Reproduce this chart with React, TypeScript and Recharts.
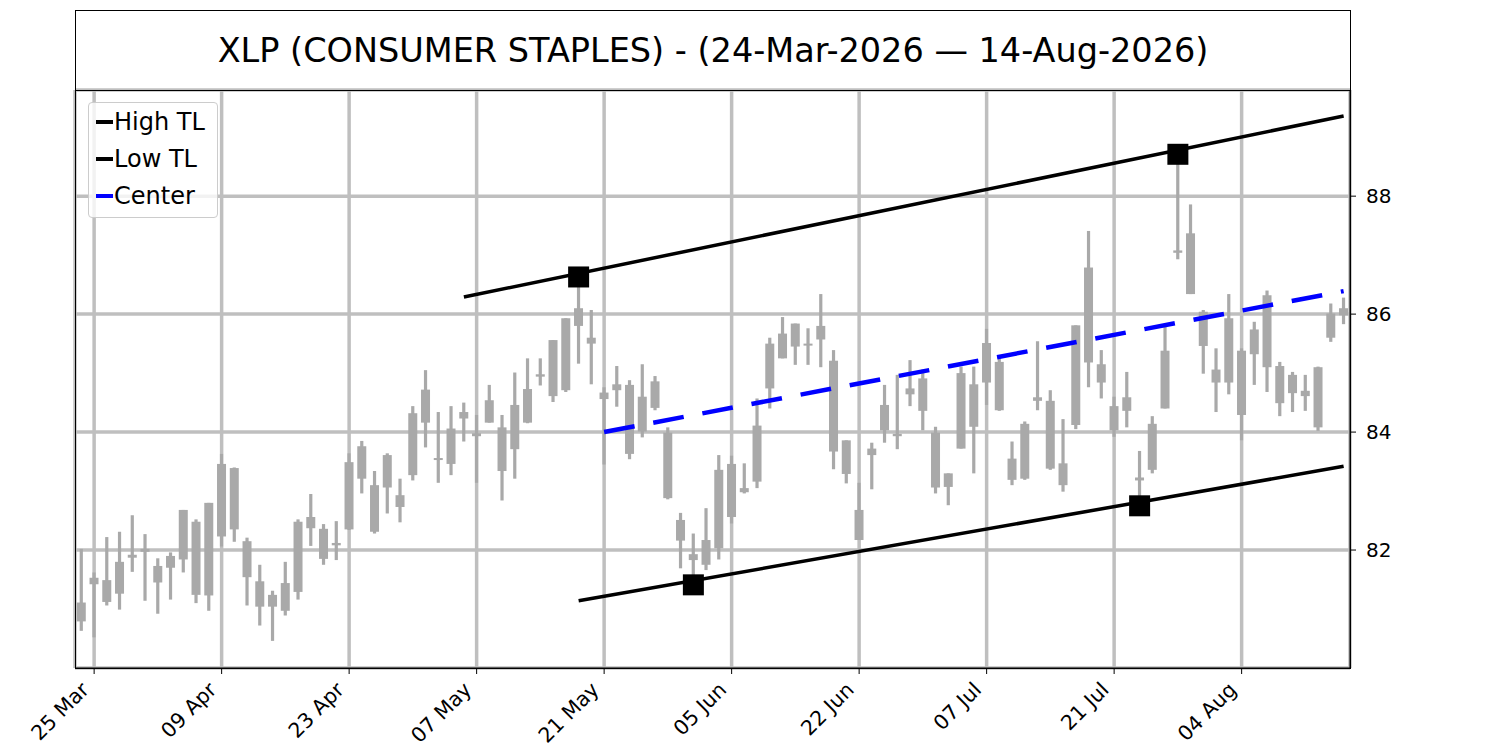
import React from 'react';
import {
  ComposedChart,
  Bar,
  XAxis,
  YAxis,
  CartesianGrid,
  ReferenceLine,
  ReferenceDot,
} from 'recharts';

// Trading days, 24-Mar-2026 .. 14-Aug-2026
const dates = [
  '24 Mar', '25 Mar', '26 Mar', '27 Mar', '30 Mar', '31 Mar',
  '01 Apr', '02 Apr', '06 Apr', '07 Apr', '08 Apr', '09 Apr', '10 Apr', '13 Apr', '14 Apr', '15 Apr',
  '16 Apr', '17 Apr', '20 Apr', '21 Apr', '22 Apr', '23 Apr', '24 Apr', '27 Apr', '28 Apr', '29 Apr', '30 Apr',
  '01 May', '04 May', '05 May', '06 May', '07 May', '08 May', '11 May', '12 May', '13 May', '14 May', '15 May',
  '18 May', '19 May', '20 May', '21 May', '22 May', '26 May', '27 May', '28 May', '29 May',
  '01 Jun', '02 Jun', '03 Jun', '04 Jun', '05 Jun', '08 Jun', '09 Jun', '10 Jun', '11 Jun', '12 Jun',
  '15 Jun', '16 Jun', '17 Jun', '18 Jun', '22 Jun', '23 Jun', '24 Jun', '25 Jun', '26 Jun', '29 Jun', '30 Jun',
  '01 Jul', '02 Jul', '06 Jul', '07 Jul', '08 Jul', '09 Jul', '10 Jul', '13 Jul', '14 Jul', '15 Jul', '16 Jul',
  '17 Jul', '20 Jul', '21 Jul', '22 Jul', '23 Jul', '24 Jul', '27 Jul', '28 Jul', '29 Jul', '30 Jul', '31 Jul',
  '03 Aug', '04 Aug', '05 Aug', '06 Aug', '07 Aug', '10 Aug', '11 Aug', '12 Aug', '13 Aug', '14 Aug',
];

const opens = [
  80.79, 81.42, 81.49, 81.26, 81.87, 81.97, 81.73, 81.70, 81.84, 82.48,
  81.23, 82.23, 82.35, 82.15, 81.47, 81.24, 80.97, 81.29, 82.37, 82.36,
  82.08, 82.35, 83.21, 83.10, 83.06, 82.93, 83.27, 84.16, 83.56, 83.46,
  84.23, 83.98, 84.16, 84.08, 83.71, 84.16, 84.94, 84.61, 84.71, 85.80,
  85.60, 84.67, 84.71, 84.80, 84.01, 84.41, 83.99, 82.51, 81.93, 81.75,
  82.03, 82.56, 83.05, 83.16, 84.74, 85.25, 85.45, 85.50, 85.57, 85.21,
  83.86, 82.68, 83.61, 84.03, 83.97, 84.64, 84.91, 83.99, 83.30, 83.72,
  84.09, 84.84, 85.19, 83.55, 83.21, 84.53, 84.53, 83.47, 84.12, 85.18,
  85.15, 84.44, 84.36, 83.23, 83.36, 84.40, 87.04, 87.37, 86.04, 85.06,
  84.84, 85.38, 85.32, 85.10, 85.12, 84.66, 84.70, 85.10, 85.60, 85.98,
];

const highs = [
  82.02, 81.62, 82.22, 82.31, 82.59, 82.27, 81.86, 81.96, 82.68, 82.52,
  82.80, 83.63, 83.40, 82.21, 81.75, 81.31, 81.80, 82.52, 82.95, 82.44,
  82.49, 83.64, 83.85, 83.34, 83.64, 83.21, 84.44, 85.05, 84.34, 84.44,
  84.50, 84.29, 84.80, 84.29, 85.01, 85.25, 85.25, 85.56, 85.93, 86.63,
  86.07, 84.76, 85.12, 84.88, 85.15, 84.95, 84.08, 82.63, 82.28, 82.71,
  83.61, 83.60, 83.47, 84.57, 85.60, 85.95, 85.84, 85.76, 86.34, 85.39,
  83.86, 83.14, 83.82, 84.80, 84.97, 85.22, 85.06, 84.09, 83.30, 85.11,
  85.11, 85.75, 85.29, 83.84, 84.18, 85.54, 84.71, 84.22, 85.81, 87.41,
  85.39, 84.60, 85.02, 83.68, 84.27, 85.79, 88.71, 87.86, 86.07, 85.42,
  86.34, 85.42, 85.87, 86.40, 85.19, 85.02, 84.97, 85.11, 86.18, 86.28,
];

const lows = [
  80.63, 80.52, 81.06, 80.99, 81.63, 81.14, 80.92, 81.16, 81.62, 81.10,
  80.97, 82.06, 82.14, 81.06, 80.72, 80.46, 80.89, 81.16, 82.07, 81.75,
  81.83, 82.34, 82.96, 82.28, 82.62, 82.47, 83.18, 83.74, 83.14, 83.27,
  83.84, 83.14, 84.16, 82.84, 83.21, 84.15, 84.79, 84.51, 84.68, 85.16,
  84.81, 83.45, 84.43, 83.54, 83.91, 84.37, 82.86, 81.69, 81.41, 81.66,
  81.84, 82.45, 82.96, 83.05, 84.40, 85.25, 85.14, 85.14, 85.10, 83.37,
  83.13, 82.17, 83.03, 83.82, 83.71, 84.44, 84.03, 82.96, 82.76, 83.72,
  83.30, 84.46, 84.36, 83.10, 83.19, 84.37, 83.36, 82.99, 84.05, 84.76,
  84.57, 83.92, 84.08, 82.75, 83.30, 84.40, 86.93, 86.34, 84.99, 84.34,
  84.64, 83.86, 84.80, 84.68, 84.27, 84.34, 84.36, 84.02, 85.53, 85.83,
];

const closes = [
  81.11, 81.53, 81.12, 81.80, 81.92, 82.02, 81.45, 81.90, 82.68, 81.24,
  82.80, 83.46, 83.39, 81.54, 81.04, 81.04, 81.44, 82.48, 82.56, 81.85,
  82.12, 83.49, 83.76, 82.31, 83.61, 82.73, 84.32, 84.72, 83.53, 84.06,
  84.34, 83.93, 84.54, 83.34, 84.46, 84.73, 84.98, 85.56, 85.93, 86.10,
  85.50, 84.56, 84.81, 83.63, 84.60, 84.86, 82.88, 82.16, 81.83, 82.17,
  83.36, 83.46, 82.98, 84.11, 85.50, 85.67, 85.84, 85.47, 85.80, 83.67,
  83.29, 82.17, 83.72, 84.46, 83.93, 84.74, 84.36, 83.06, 83.07, 85.00,
  84.81, 85.51, 84.37, 83.19, 84.14, 84.59, 83.38, 83.10, 85.81, 86.79,
  84.84, 84.03, 84.59, 83.18, 84.14, 85.38, 87.08, 86.34, 85.46, 84.84,
  85.93, 84.29, 85.74, 86.32, 84.49, 84.97, 84.61, 84.08, 86.01, 86.10,
];

const tickLabels = ['25 Mar', '09 Apr', '23 Apr', '07 May', '21 May', '05 Jun', '22 Jun', '07 Jul', '21 Jul', '04 Aug'];
const yTicks = [82, 84, 86, 88];

// Trend lines: start / end points
const highTL = { x1: '06 May', y1: 86.29, x2: '14 Aug', y2: 89.36 };
const lowTL = { x1: '19 May', y1: 81.14, x2: '14 Aug', y2: 83.42 };
const centerTL = { x1: '21 May', y1: 84.0, x2: '14 Aug', y2: 86.39 };
const pivotHighs = [
  { x: '19 May', y: 86.63 },
  { x: '28 Jul', y: 88.71 },
];
const pivotLows = [
  { x: '02 Jun', y: 81.41 },
  { x: '23 Jul', y: 82.75 },
];

const legendLabels = ['High TL', 'Low TL', 'Center'];
const legendColors = ['#000000', '#000000', '#0000ff'];

const titleText = 'XLP (CONSUMER STAPLES) - (24-Mar-2026 \u2014 14-Aug-2026)';

const data = dates.map((d, i) => ({
  date: d,
  open: opens[i],
  high: highs[i],
  low: lows[i],
  close: closes[i],
}));

const CANDLE = '#a9a9a9';

const Candle = (props: any) => {
  const { x, y, width, height, payload } = props;
  if (x == null || y == null || !payload) return null;
  const cx = x + width / 2;
  const top = Math.min(y, y + height);
  const h = Math.abs(height);
  const range = payload.high - payload.low;
  const ppu = range > 0 ? h / range : 0;
  const bTop = top + (payload.high - Math.max(payload.open, payload.close)) * ppu;
  let bBot = top + (payload.high - Math.min(payload.open, payload.close)) * ppu;
  if (bBot - bTop < 2) bBot = bTop + 2;
  return (
    <g>
      <rect x={cx - 1.6} y={top} width={3.2} height={Math.max(h, 1)} fill={CANDLE} />
      <rect x={cx - 4.5} y={bTop} width={9} height={bBot - bTop} fill={CANDLE} />
    </g>
  );
};

const XTick = (props: any) => {
  const { x, y, payload } = props;
  const ax = x - 4;
  const ay = y + 15;
  return (
    <text
      x={ax}
      y={ay}
      textAnchor="end"
      fontSize={20.5}
      fill="#000"
      fontFamily="DejaVu Sans"
      transform={`rotate(-45, ${ax}, ${ay})`}
    >
      {payload.value}
    </text>
  );
};

const squareShape = (p: any) => (
  <rect x={p.cx - 10.5} y={p.cy - 10.5} width={21} height={21} fill="#000" />
);

export default function App() {
  return (
    <div
      style={{
        position: 'absolute',
        left: 0,
        top: 0,
        width: 1500,
        height: 750,
        background: '#fff',
        fontFamily: 'DejaVu Sans',
      }}
    >
      <ComposedChart
        width={1500}
        height={750}
        data={data}
        margin={{ top: 90, right: 90, bottom: 22, left: 75 }}
      >
        <CartesianGrid stroke="#bfbfbf" strokeWidth={3.5} />
        <XAxis
          dataKey="date"
          type="category"
          ticks={tickLabels}
          interval={0}
          height={60}
          tickSize={6}
          tickLine={{ stroke: '#000' }}
          axisLine={{ stroke: '#000' }}
          tick={<XTick />}
        />
        <YAxis
          orientation="right"
          type="number"
          domain={[80, 89.8]}
          ticks={yTicks}
          allowDataOverflow
          width={60}
          tickSize={6}
          tickMargin={10}
          tickLine={{ stroke: '#000' }}
          axisLine={{ stroke: '#000' }}
          tick={{ fontSize: 20, fill: '#000', fontFamily: 'DejaVu Sans' }}
        />
        <ReferenceLine
          segment={[
            { x: centerTL.x1, y: centerTL.y1 },
            { x: centerTL.x2, y: centerTL.y2 },
          ]}
          stroke="#0000ff"
          strokeWidth={4.5}
          strokeDasharray="31 19"
          ifOverflow="visible"
        />
        <Bar
          dataKey={(d: any) => [d.low, d.high]}
          shape={<Candle />}
          isAnimationActive={false}
        />
        <ReferenceLine
          segment={[
            { x: highTL.x1, y: highTL.y1 },
            { x: highTL.x2, y: highTL.y2 },
          ]}
          stroke="#000"
          strokeWidth={3.5}
          ifOverflow="visible"
        />
        <ReferenceLine
          segment={[
            { x: lowTL.x1, y: lowTL.y1 },
            { x: lowTL.x2, y: lowTL.y2 },
          ]}
          stroke="#000"
          strokeWidth={3.5}
          ifOverflow="visible"
        />
        {pivotHighs.map((p, i) => (
          <ReferenceDot key={'h' + i} x={p.x} y={p.y} r={10} shape={squareShape} ifOverflow="visible" />
        ))}
        {pivotLows.map((p, i) => (
          <ReferenceDot key={'l' + i} x={p.x} y={p.y} r={10} shape={squareShape} ifOverflow="visible" />
        ))}
      </ComposedChart>

      {/* Title box */}
      <div
        style={{
          position: 'absolute',
          left: 75,
          top: 10,
          width: 1276,
          height: 81,
          boxSizing: 'border-box',
          border: '1px solid #000',
          display: 'flex',
          alignItems: 'center',
          justifyContent: 'center',
          fontSize: 33.5,
          color: '#000',
          fontFamily: 'DejaVu Sans',
        }}
      >
        {titleText}
      </div>

      {/* Plot frame */}
      <div
        style={{
          position: 'absolute',
          left: 75,
          top: 90,
          width: 1276,
          height: 579,
          boxSizing: 'border-box',
          border: '1px solid #000',
          pointerEvents: 'none',
        }}
      />

      {/* Legend */}
      <div
        style={{
          position: 'absolute',
          left: 88,
          top: 102,
          width: 130,
          height: 116,
          boxSizing: 'border-box',
          border: '1px solid #cccccc',
          borderRadius: 4,
          background: 'rgba(255,255,255,0.8)',
          fontFamily: 'DejaVu Sans',
          fontSize: 24,
          color: '#000',
        }}
      >
        {legendLabels.map((lab, i) => (
          <div
            key={lab}
            style={{
              position: 'absolute',
              left: 7,
              top: 4 + i * 37,
              height: 30,
              display: 'flex',
              alignItems: 'center',
              whiteSpace: 'nowrap',
            }}
          >
            <span
              style={{
                display: 'inline-block',
                width: 17,
                height: 4,
                background: legendColors[i],
                marginRight: 1,
              }}
            />
            <span>{lab}</span>
          </div>
        ))}
      </div>
    </div>
  );
}
